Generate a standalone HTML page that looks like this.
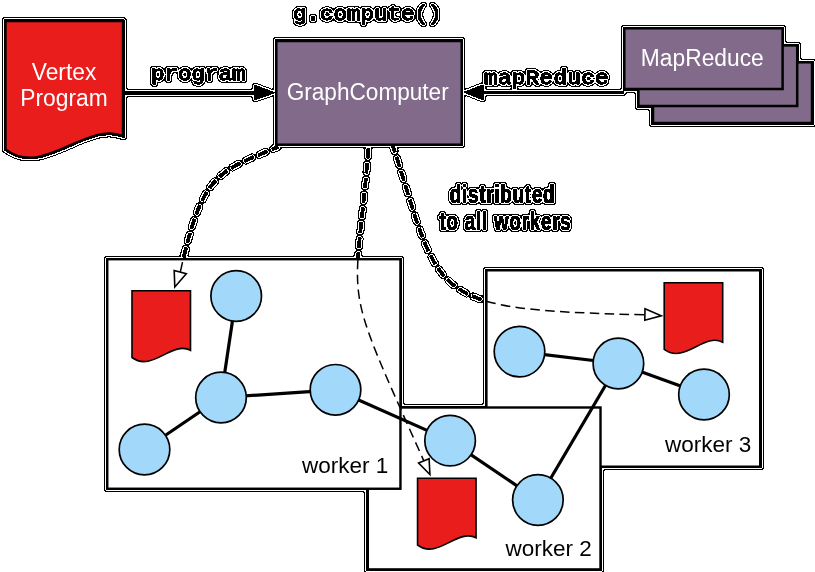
<!DOCTYPE html>
<html><head><meta charset="utf-8"><title>GraphComputer</title>
<style>
html,body{margin:0;padding:0;background:#fff;width:815px;height:572px;overflow:hidden}
svg{display:block}
text{font-family:"Liberation Sans",sans-serif}
.mono text{font-family:"Liberation Mono",monospace}
</style></head><body>
<svg width="815" height="572" viewBox="0 0 815 572">
<defs>
<filter id="ol" x="-5%" y="-5%" width="110%" height="110%" color-interpolation-filters="sRGB">
  <feComponentTransfer in="SourceAlpha" result="th"><feFuncA type="discrete" tableValues="0 1 1 1 1 1 1 1 1 1 1 1 1 1 1 1"/></feComponentTransfer>
  <feGaussianBlur in="th" stdDeviation="1.5" result="b2"/>
  <feComponentTransfer in="b2" result="d2"><feFuncA type="discrete" tableValues="0 1 1 1 1 1 1 1 1 1 1 1 1 1 1 1 1 1 1 1"/></feComponentTransfer>
  <feFlood flood-color="#000"/>
  <feComposite in2="d2" operator="in" result="blk"/>
  <feGaussianBlur in="th" stdDeviation="0.8" result="b1"/>
  <feComponentTransfer in="b1" result="d1"><feFuncA type="discrete" tableValues="0 1 1 1 1 1 1"/></feComponentTransfer>
  <feFlood flood-color="#fff"/>
  <feComposite in2="d1" operator="in" result="wht"/>
  <feFlood flood-color="#000"/>
  <feComposite in2="th" operator="in" result="thb"/>
  <feMerge><feMergeNode in="blk"/><feMergeNode in="wht"/><feMergeNode in="thb"/><feMergeNode in="SourceGraphic"/></feMerge>
</filter>
<clipPath id="inbox">
  <rect x="106" y="258" width="295.6" height="231.9"/>
  <rect x="366.6" y="406.3" width="235.1" height="164.3"/>
  <rect x="485.2" y="269.1" width="276.2" height="198.8"/>
</clipPath>
</defs>
<rect x="0" y="0" width="815" height="572" fill="#fff"/>
<g filter="url(#ol)">
  <!-- dashed curves thick (outside) -->
  <g fill="none" stroke="#000" stroke-width="2.9" stroke-dasharray="9.6 5.3" stroke-dashoffset="3.3">
    <path d="M278,147 C218,171.9 202.3,172.1 180.25,272.2"/>
    <path d="M368.5,147 C355.5,315.9 337.4,268.1 423.85,460.85" stroke-dashoffset="-1.5"/>
    <path d="M393,146 C442.6,300.7 425,309.2 645,314.85"/>
  </g>
  <!-- worker boxes -->
  <rect x="486.4" y="270.3" width="273.8" height="196.4" fill="#fff" stroke="#000" stroke-width="2.4"/>
  <rect x="367.8" y="407.5" width="232.7" height="161.9" fill="#fff" stroke="#000" stroke-width="2.4"/>
  <rect x="107.25" y="259.2" width="293.2" height="229.55" fill="#fff" stroke="#000" stroke-width="2.4"/>

  <!-- graph edges -->
  <g stroke="#000" stroke-width="3.2" fill="none">
    <line x1="236.2" y1="296" x2="221" y2="397.5"/>
    <line x1="221" y1="397.5" x2="144.5" y2="449.5"/>
    <line x1="221" y1="397.5" x2="335.5" y2="389.8"/>
    <line x1="335.5" y1="389.8" x2="450.1" y2="440.6"/>
    <line x1="450.1" y1="440.6" x2="537.9" y2="500"/>
    <line x1="537.9" y1="500" x2="618.4" y2="363.5"/>
    <line x1="519.5" y1="351.6" x2="618.4" y2="363.5"/>
    <line x1="618.4" y1="363.5" x2="704" y2="394.5"/>
  </g>
  <!-- nodes -->
  <g fill="#a2d8f9" stroke="#000" stroke-width="1.7">
    <circle cx="236.2" cy="296" r="25.3"/>
    <circle cx="221" cy="397.5" r="25.3"/>
    <circle cx="335.5" cy="389.8" r="25.3"/>
    <circle cx="144.5" cy="449.5" r="25.3"/>
    <circle cx="450.1" cy="440.6" r="25.3"/>
    <circle cx="537.9" cy="500" r="25.3"/>
    <circle cx="519.5" cy="351.6" r="25.3"/>
    <circle cx="618.4" cy="363.5" r="25.3"/>
    <circle cx="704" cy="394.5" r="25.3"/>
  </g>
  <!-- small documents -->
  <g fill="#ea1d1d" stroke="#000" stroke-width="1.6" stroke-linejoin="miter">
    <path d="M132.0,290.8 H190.50 V350.30 C171.88,340.46 152.15,372.57 132.0,357.50 Z"/>
    <path d="M417.55,478.3 H476.05 V537.80 C457.43,527.96 437.70,560.07 417.55,545.00 Z"/>
    <path d="M664.2,282.7 H722.70 V342.20 C704.08,332.36 684.35,364.47 664.2,349.40 Z"/>
  </g>
  <!-- worker labels -->
  <g font-size="22.5" fill="#000">
    <text x="301.9" y="473">worker 1</text>
    <text x="505.5" y="556.3">worker 2</text>
    <text x="665" y="452">worker 3</text>
  </g>

  <!-- dashed curves -->
  <g clip-path="url(#inbox)" fill="none" stroke="#000" stroke-width="1.5" stroke-dasharray="9.6 5.3" stroke-dashoffset="3.3">
    <path d="M278,147 C218,171.9 202.3,172.1 180.25,272.2"/>
    <path d="M368.5,147 C355.5,315.9 337.4,268.1 423.85,460.85" stroke-dashoffset="6"/>
    <path d="M393,146 C442.6,300.7 425,309.2 645,314.85"/>
  </g>
  <!-- open arrowheads -->
  <g fill="#fff" stroke="#000" stroke-width="1.6" stroke-linejoin="miter">
    <path d="M174.2,270.6 L186.3,273.8 L174.8,287 Z"/>
    <path d="M418.6,463 L429.1,458.7 L429.9,474.5 Z"/>
    <path d="M645,308.8 L644.8,320.2 L661.2,315.8 Z"/>
  </g>

  <!-- top: vertex program -->
  <path d="M5.5,21 H123 V136.2 C86.36,120.65 43.01,178.52 5.5,149.4 Z" fill="#ea1d1d" stroke="#000" stroke-width="2.4"/>
  <g fill="#fff" font-size="22.8" text-anchor="middle">
    <text transform="translate(64,79.6) scale(1,1.08)">Vertex</text>
    <text transform="translate(64,105.9) scale(1,1.08)">Program</text>
  </g>

  <!-- GraphComputer -->
  <rect x="276.3" y="41" width="185.4" height="103.7" fill="#826a8a" stroke="#000" stroke-width="2.5"/>
  <text transform="translate(367.7,99.7) scale(1,1.08)" font-size="22.6" fill="#fff" text-anchor="middle">GraphComputer</text>

  <!-- MapReduce stack -->
  <rect x="653" y="62.3" width="159" height="60.7" fill="#826a8a" stroke="#000" stroke-width="2.5"/>
  <rect x="638.4" y="45.4" width="158.8" height="60.6" fill="#826a8a" stroke="#000" stroke-width="2.5"/>
  <rect x="624.3" y="28.3" width="158.3" height="60.7" fill="#826a8a" stroke="#000" stroke-width="2.5"/>
  <text transform="translate(702.3,65.8) scale(1,1.08)" font-size="22.8" fill="#fff" text-anchor="middle">MapReduce</text>

  <!-- arrows -->
  <line x1="123" y1="92.8" x2="257" y2="92.8" stroke="#000" stroke-width="3.5"/>
  <line x1="481" y1="92.5" x2="624" y2="92.5" stroke="#000" stroke-width="3"/>
  <path d="M254.8,85.1 L274.9,92.7 L254.8,100 Z" fill="#000"/>
  <path d="M483.2,84.8 L463.6,92.3 L483.2,100 Z" fill="#000"/>

  <!-- mono labels -->
  <g class="mono" font-size="20.5" fill="#000" style="letter-spacing:-0.027px;font-weight:normal;stroke:#000;stroke-width:0.5px">
    <text transform="translate(151.0,80) scale(1.1,1)">program</text>
    <text transform="translate(484,84) scale(1.1,1)" style="letter-spacing:0.33px">mapReduce</text>
    <text transform="translate(293.0,20) scale(1.1,1)">g.compute()</text>
  </g>
  <g font-size="25.2" font-weight="bold" fill="#000" text-anchor="middle" transform="translate(502.5,0) scale(0.74,1)" style="letter-spacing:1.15px">
    <text x="0" y="202.8">distributed</text>
    <text x="4.05" y="229.6">to all workers</text>
  </g>
</g>
</svg>
</body></html>
